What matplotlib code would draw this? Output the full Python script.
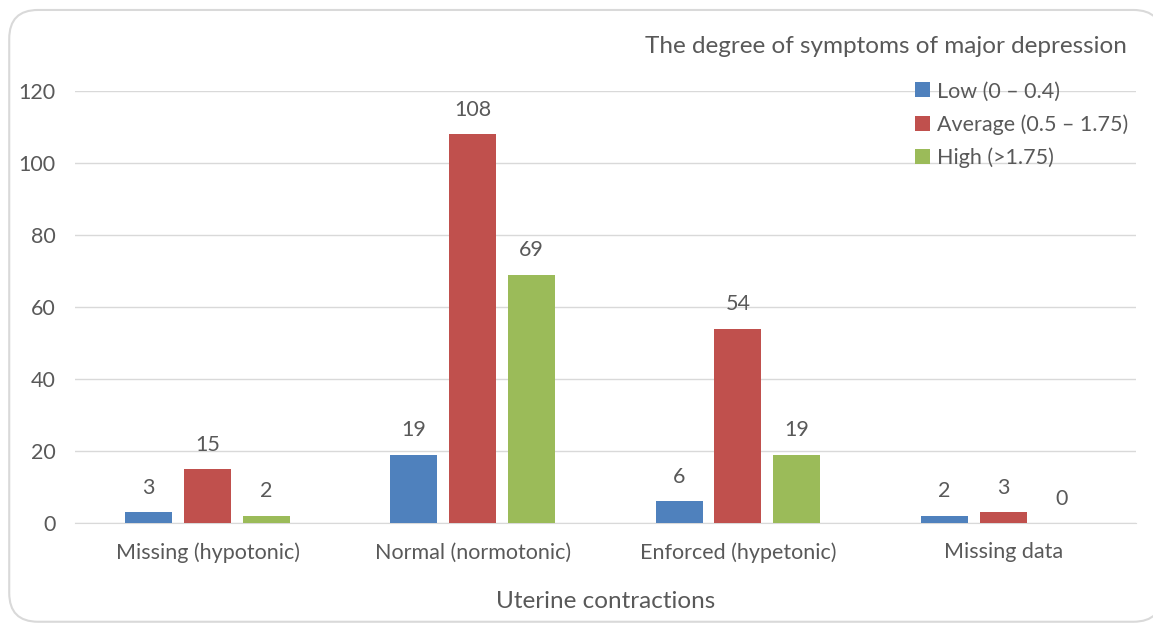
import matplotlib.pyplot as plt
import numpy as np
from matplotlib.patches import FancyBboxPatch

categories = ['Missing (hypotonic)', 'Normal (normotonic)', 'Enforced (hypetonic)', 'Missing data']
series_names = ['Low (0 – 0.4)', 'Average (0.5 – 1.75)', 'High (>1.75)']
low = [3, 19, 6, 2]
average = [15, 108, 54, 3]
high = [2, 69, 19, 0]
colors = ['#4F81BD', '#C0504D', '#9BBB59']

text_color = '#595959'
plt.rcParams['font.family'] = ['Lato', 'DejaVu Sans']

fig = plt.figure(figsize=(11.53, 6.23), dpi=100)
ax = fig.add_axes([0.065, 0.1605, 0.92, 0.6935])

# rounded chart frame, running off the right edge
frame = FancyBboxPatch((0.008, 0.002), 1.0, 0.982, boxstyle='round,pad=0,rounding_size=0.025',
                       transform=fig.transFigure, facecolor='white', edgecolor='#d9d9d9',
                       linewidth=1.5, mutation_aspect=1153 / 623, zorder=-10)
fig.patches.append(frame)

x = np.arange(len(categories))
width = 0.177
step = 0.222
for i, (vals, name) in enumerate(zip([low, average, high], series_names)):
    pos = x + (i - 1) * step
    bars = ax.bar(pos, vals, width, color=colors[i], label=name, zorder=3)
    for p, v in zip(pos, vals):
        ax.text(p, v + 4, str(v), ha='center', va='bottom', fontsize=15.5, color=text_color)

ax.set_xlim(-0.5, 3.5)
ax.set_ylim(0, 120)
ax.set_yticks(range(0, 121, 20))
ax.set_xticks(x)
ax.set_xticklabels(categories)
ax.tick_params(axis='both', length=0, labelsize=15.5, labelcolor=text_color)
ax.tick_params(axis='y', pad=14)
ax.tick_params(axis='x', pad=14)
ax.yaxis.grid(True, color='#d9d9d9', linewidth=1, zorder=0)
ax.set_axisbelow(True)
for s in ['top', 'right', 'left']:
    ax.spines[s].set_visible(False)
ax.spines['bottom'].set_color('#d9d9d9')
ax.set_xlabel('Uterine contractions', fontsize=17.5, color=text_color, labelpad=20)

fig.text(0.977, 0.925, 'The degree of symptoms of major depression', ha='right', va='center',
         fontsize=17.5, color=text_color)
leg = ax.legend(loc='upper left', bbox_to_anchor=(0.774, 1.067), frameon=False, fontsize=15.5,
                handlelength=0.7, handleheight=0.7, handletextpad=0.3, labelspacing=0.6,
                labelcolor=text_color)

fig.savefig('out.png', dpi=100)
